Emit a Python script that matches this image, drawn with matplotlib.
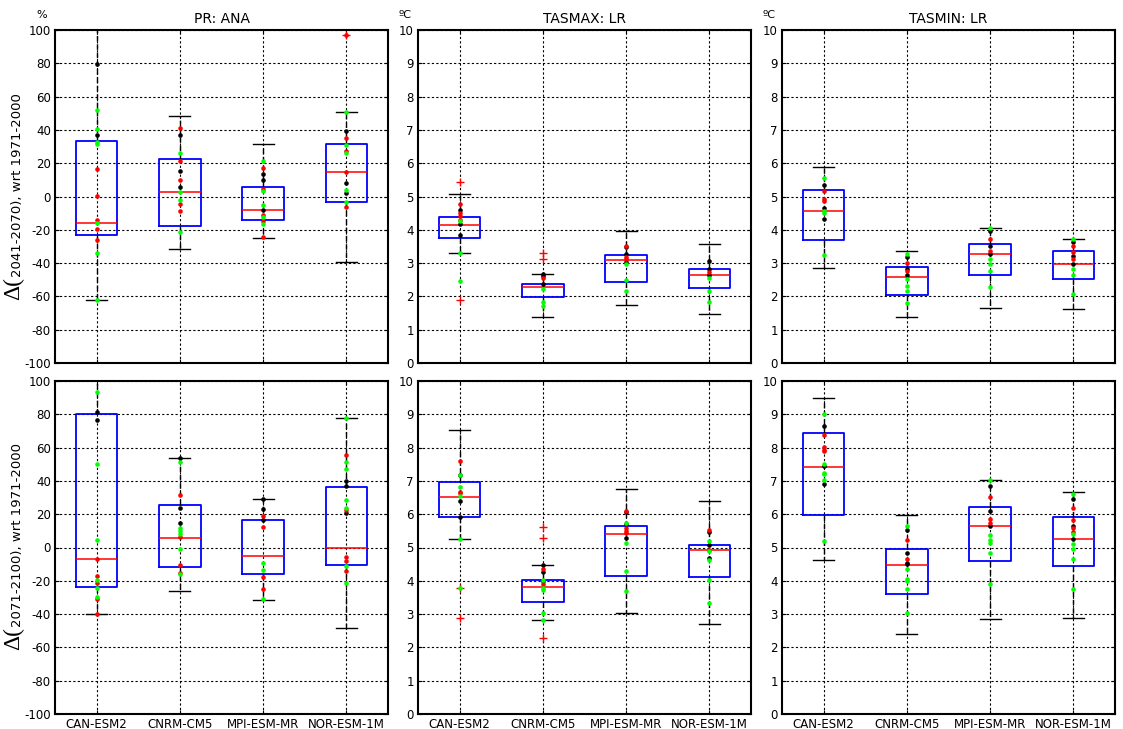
import matplotlib
matplotlib.use('Agg')
import matplotlib.pyplot as plt

models = ['CAN-ESM2', 'CNRM-CM5', 'MPI-ESM-MR', 'NOR-ESM-1M']
titles = ['PR: ANA', 'TASMAX: LR', 'TASMIN: LR']
units = ['%', 'ºC', 'ºC']
periods = ['2041-2070', '2071-2100']

# box stats per model: (lower whisker, q1, median, q3, upper whisker)
pr_mid_box = [(-62.2, -23.0, -16.0, 33.6, 105.0), (-31.6, -18.0, 2.6, 22.4, 48.4),
              (-25.2, -14.0, -8.0, 6.0, 31.4), (-39.4, -3.4, 14.6, 31.6, 50.6)]
pr_mid_out = [[], [], [], [97.0]]
pr_mid_black = [[79.4, 36.8], [37.0, 15.6, 5.6], [13.4, 10.0, -8.2], [39.6, 8.2, 2.4]]
pr_mid_red = [[16.6, 0.2, -14.0, -19.6, -26.0], [41.4, 21.4, 10.0, -4.8, -8.6],
              [17.0, 4.4, -11.0, -15.0, -24.6], [97.0, 35.4, 27.4, 15.0, -6.4]]
pr_mid_green = [[52.0, 40.6, 32.6, 31.6, -16.0, -34.0, -62.2], [26.0, 3.0, -2.0, -21.4],
                [21.4, 3.4, -5.4, -12.4, -16.4], [50.8, 30.8, 26.4, 4.0, -3.2]]

tmax_mid_box = [(3.30, 3.76, 4.15, 4.39, 5.08), (1.39, 1.98, 2.29, 2.38, 2.68),
                (1.75, 2.42, 3.08, 3.23, 3.95), (1.46, 2.26, 2.65, 2.81, 3.56)]
tmax_mid_out = [[5.43, 1.88], [3.30, 3.12], [], []]
tmax_mid_black = [[4.59, 4.17, 3.83], [2.67, 2.61, 2.38], [3.47, 3.27, 3.03], [3.06, 2.83, 2.63]]
tmax_mid_red = [[4.77, 4.49, 4.41, 4.29], [2.54], [3.51, 3.19, 3.11], [2.74]]
tmax_mid_green = [[4.26, 3.30, 2.45], [2.22, 1.84, 1.72], [2.96, 2.48, 2.17], [2.54, 2.15, 1.82]]

tmin_mid_box = [(2.84, 3.70, 4.55, 5.20, 5.88), (1.38, 2.05, 2.59, 2.87, 3.36),
                (1.65, 2.65, 3.26, 3.56, 4.05), (1.61, 2.52, 2.96, 3.35, 3.73)]
tmin_mid_out = [[], [], [], []]
tmin_mid_black = [[5.34, 4.65, 4.31], [3.18, 2.83, 2.63], [3.96, 3.51, 3.27], [3.63, 3.21, 2.96]]
tmin_mid_red = [[5.16, 4.91, 4.86], [3.00, 2.76], [3.73, 3.36], [3.51, 3.32, 3.12]]
tmin_mid_green = [[5.56, 4.57, 4.49, 3.24], [3.26, 2.53, 2.32, 2.15, 1.79],
                  [4.05, 3.11, 2.98, 2.77, 2.29], [3.73, 2.81, 2.64, 2.07]]

pr_end_box = [(-39.8, -23.9, -6.8, 80.1, 108.0), (-26.3, -11.6, 5.6, 25.3, 54.0),
              (-31.7, -15.9, -5.4, 16.3, 29.1), (-48.6, -10.4, -0.6, 36.1, 77.9)]
pr_end_out = [[], [], [], []]
pr_end_black = [[81.1, 76.3], [54.0, 23.5, 14.7], [29.1, 23.3, 16.7], [39.8, 36.9, 20.5]]
pr_end_red = [[-6.8, -16.9, -21.1, -31.1, -39.8], [31.3, 6.6, -10.8, -15.3],
              [18.7, 12.4, -17.7, -25.1], [55.4, 22.5, -5.6, -8.2, -14.1]]
pr_end_green = [[93.2, 50.4, 4.4, -19.7, -24.1, -29.7], [51.2, 11.6, 10.2, 8.0, -1.2, -15.7],
                [-9.2, -13.3, -30.7], [77.9, 51.2, 47.0, 28.7, 23.5, -11.4, -21.3]]

tmax_end_box = [(5.25, 5.91, 6.53, 6.98, 8.52), (2.82, 3.36, 3.81, 4.01, 4.46),
                (3.02, 4.14, 5.40, 5.64, 6.77), (2.71, 4.10, 4.93, 5.09, 6.41)]
tmax_end_out = [[3.78, 2.89], [5.63, 5.29, 2.28], [], []]
tmax_end_black = [[7.17, 6.41, 5.92], [4.46, 4.25, 4.00], [6.08, 5.70, 5.29], [5.47, 5.08, 4.67]]
tmax_end_red = [[7.59, 6.68, 6.64], [4.35, 3.90], [6.11, 5.60, 5.50, 5.43], [5.53, 4.93]]
tmax_end_green = [[7.19, 6.83, 6.56, 5.25, 3.78], [4.02, 3.78, 3.72, 3.02, 2.82],
                  [5.75, 5.15, 4.29, 3.70], [5.20, 4.88, 4.62, 4.02, 3.32]]

tmin_end_box = [(4.63, 5.99, 7.41, 8.45, 9.48), (2.39, 3.61, 4.47, 4.94, 5.98),
                (2.84, 4.59, 5.66, 6.21, 7.04), (2.88, 4.44, 5.27, 5.93, 6.66)]
tmin_end_out = [[], [], [], []]
tmin_end_black = [[8.65, 7.45, 6.92], [5.54, 4.84, 4.53, 4.50], [6.86, 6.10, 5.66], [6.46, 5.66, 5.27]]
tmin_end_red = [[8.39, 8.01, 7.94, 7.91], [5.22, 4.66], [6.51, 5.85, 5.75], [6.20, 5.84, 5.58, 5.47]]
tmin_end_green = [[9.00, 7.50, 7.24, 7.20, 7.04, 5.21], [5.65, 4.35, 4.04, 4.00, 3.76, 3.02],
                  [7.04, 5.38, 5.24, 5.14, 4.82, 3.91], [6.62, 5.40, 5.12, 4.94, 4.65, 3.76]]

panels = [
    [(pr_mid_box, pr_mid_out, pr_mid_black, pr_mid_red, pr_mid_green),
     (tmax_mid_box, tmax_mid_out, tmax_mid_black, tmax_mid_red, tmax_mid_green),
     (tmin_mid_box, tmin_mid_out, tmin_mid_black, tmin_mid_red, tmin_mid_green)],
    [(pr_end_box, pr_end_out, pr_end_black, pr_end_red, pr_end_green),
     (tmax_end_box, tmax_end_out, tmax_end_black, tmax_end_red, tmax_end_green),
     (tmin_end_box, tmin_end_out, tmin_end_black, tmin_end_red, tmin_end_green)],
]

plt.rcParams['font.family'] = ['DejaVu Sans']
plt.rcParams['axes.unicode_minus'] = False
fig = plt.figure(figsize=(11.23, 7.29), dpi=100)

W, H = 1123.0, 729.0
lefts = [55, 418, 782]
tops = [30, 381]
size_w, size_h = 333, 333

axes = []
for r in range(2):
    for c in range(3):
        box, out, black, red, green = panels[r][c]
        ax = fig.add_axes([lefts[c] / W, 1 - (tops[r] + size_h) / H, size_w / W, size_h / H])
        axes.append(ax)
        stats = []
        for i, (lo, q1, med, q3, hi) in enumerate(box):
            stats.append(dict(whislo=lo, q1=q1, med=med, q3=q3, whishi=hi, fliers=out[i]))
        ax.bxp(stats, positions=[1, 2, 3, 4], widths=0.5, capwidths=0.25,
               boxprops=dict(color='blue', linewidth=1.3),
               medianprops=dict(color='red', linewidth=1.1),
               whiskerprops=dict(color='black', linestyle=(0, (4, 2)), linewidth=1.0),
               capprops=dict(color='black', linewidth=1.0),
               flierprops=dict(marker='+', markeredgecolor='red', markersize=6,
                               linestyle='none', markeredgewidth=1.0))
        for i in range(4):
            for vals, col in ((black[i], 'black'), (red[i], 'red'), (green[i], '#00ff00')):
                ax.plot([i + 1] * len(vals), vals, 'o', color=col, markersize=3.3,
                        markeredgecolor='none', zorder=4)

        ax.set_xlim(0.5, 4.5)
        if c == 0:
            ax.set_ylim(-100, 100)
            ax.set_yticks(range(-100, 101, 20))
        else:
            ax.set_ylim(0, 10)
            ax.set_yticks(range(0, 11))
        ax.set_xticks([1, 2, 3, 4])
        if r == 1:
            ax.set_xticklabels(models, fontsize=9)
        else:
            ax.set_xticklabels([])
        ax.tick_params(direction='in', length=3, top=True, right=True, labelsize=8.5, pad=3)
        ax.set_axisbelow(True)
        ax.grid(True, color='black', linestyle=(0, (2, 2)), linewidth=0.8)
        for s in ax.spines.values():
            s.set_linewidth(1.5)

        if r == 0:
            ax.text(0.5, 1.012, titles[c], transform=ax.transAxes, ha='center',
                    va='bottom', fontsize=10)
            ax.text(-0.04, 1.045, units[c], transform=ax.transAxes, ha='center',
                    va='center', fontsize=8)

# y labels: large delta and the period text next to it
for r, ybot in enumerate([300, 650]):
    t1 = fig.text(24 / W, 1 - ybot / H, 'Δ(', rotation=90, ha='right', va='bottom',
                  family='Liberation Serif', fontsize=17)
    axes[r * 3].annotate(periods[r] + '), wrt 1971-2000', xy=(1, 1), xycoords=t1,
                         ha='right', va='bottom', rotation=90, fontsize=9.5)

fig.savefig('out.png', dpi=100)
